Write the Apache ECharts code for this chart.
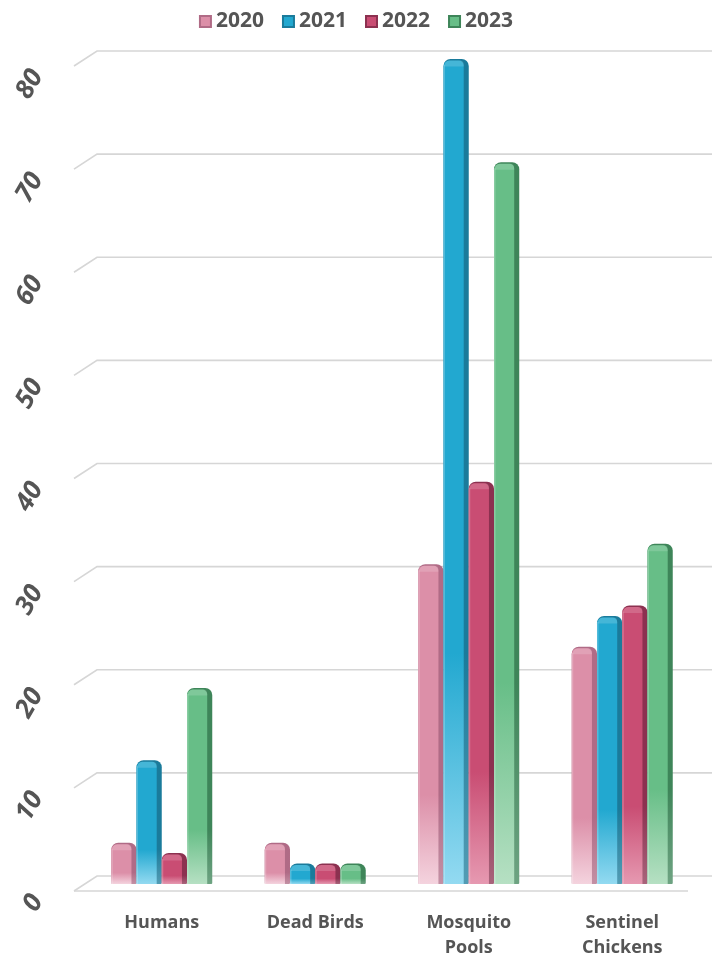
<!DOCTYPE html>
<html>
<head>
<meta charset="utf-8">
<style>
  html, body { margin: 0; padding: 0; background: #ffffff; }
  #chart { width: 712px; height: 960px; }
</style>
<script src="https://cdn.jsdelivr.net/npm/echarts@6/dist/echarts.min.js"></script>
</head>
<body>
<div id="chart"></div>
<script>
// Surveillance counts by source and year
const categories = ['Humans', 'Dead Birds', 'Mosquito\nPools', 'Sentinel\nChickens'];
const years = ['2020', '2021', '2022', '2023'];
const values2020 = [4, 4, 31, 23];
const values2021 = [12, 2, 80, 26];
const values2022 = [3, 2, 39, 27];
const values2023 = [19, 2, 70, 33];
const yTicks = [0, 10, 20, 30, 40, 50, 60, 70, 80];

const seriesValues = [values2020, values2021, values2022, values2023];
// front colour, pale colour at the base, darker side face
const palette = [
  { main: '#dc8fa8', pale: '#f4d3de', side: '#b06b86' },
  { main: '#22a8d0', pale: '#93daf1', side: '#1a7b9b' },
  { main: '#c94d73', pale: '#e699b1', side: '#8c3150' },
  { main: '#67be87', pale: '#b6e0c3', side: '#3e8559' }
];

const FONT = '"Open Sans", "Noto Sans", sans-serif';
const GRID_COLOR = '#d6d6d6';
const DEPTH = 8;      // half depth of the pseudo 3D floor
const SLANT = 11;     // horizontal reach of the slanted grid segments
const FADE_START = 0.72; // share of the bar kept in full colour before fading

function barRenderer(k) {
  const pal = palette[k];
  return function (params, api) {
    const cat = api.value(0);
    const val = api.value(1);
    const base = api.coord([cat, 0]);
    const top = api.coord([cat, val]);
    const band = api.size([1, 0])[0];
    const w = band * 0.1645;
    const x0 = base[0] + (k - 2) * w;
    const yTop = top[1];
    const h = base[1] - yTop;
    const sideW = Math.max(4, w * 0.2);
    const frontFill = new echarts.graphic.LinearGradient(0, 0, 0, 1, [
      { offset: 0, color: pal.main },
      { offset: FADE_START, color: pal.main },
      { offset: 1, color: pal.pale }
    ]);
    const sideFill = new echarts.graphic.LinearGradient(0, 0, 0, 1, [
      { offset: 0, color: pal.side },
      { offset: FADE_START, color: pal.side },
      { offset: 1, color: echarts.color.lift(pal.side, 0.25) }
    ]);
    return {
      type: 'group',
      children: [
        {
          type: 'rect',
          shape: { x: x0, y: yTop, width: w, height: h, r: [7, 7, 1, 1] },
          style: { fill: sideFill }
        },
        {
          type: 'rect',
          shape: { x: x0, y: yTop + 1.5, width: w - sideW, height: h - 1.5, r: [6, 5, 0, 0] },
          style: { fill: frontFill }
        },
        {
          type: 'rect',
          shape: { x: x0 + 1, y: yTop + 1.5, width: w - sideW - 1, height: Math.min(6, h), r: [5, 4, 0, 0] },
          style: { fill: 'rgba(255,255,255,0.16)' }
        },
        {
          type: 'rect',
          shape: { x: x0, y: yTop + 6, width: 1.5, height: Math.max(0, h - 6) },
          style: { fill: 'rgba(255,255,255,0.22)' }
        }
      ]
    };
  };
}

// Back-wall grid lines with a slanted lead-in, the floor edge and the value labels
function gridRenderer(params, api) {
  const v = api.value(1);
  const cs = params.coordSys;
  const p = api.coord([0, v]);
  const yb = p[1] - DEPTH;
  const xl = cs.x;
  const children = [
    {
      type: 'polyline',
      shape: { points: [[xl - SLANT, yb + 2 * DEPTH - 1], [xl + SLANT + 1, yb], [712, yb]] },
      style: { stroke: GRID_COLOR, lineWidth: 1.6, fill: null }
    },
    {
      type: 'text',
      x: 37,
      y: p[1] + 13,
      rotation: Math.PI / 3,
      style: {
        text: String(v),
        fill: '#555555',
        font: 'italic bold 26px ' + FONT,
        align: 'right',
        verticalAlign: 'middle'
      }
    }
  ];
  if (v === 0) {
    children.push({
      type: 'line',
      shape: { x1: xl - SLANT, y1: yb + 2 * DEPTH - 1, x2: cs.x + cs.width - 11, y2: yb + 2 * DEPTH - 1 },
      style: { stroke: GRID_COLOR, lineWidth: 1.6 }
    });
  }
  return { type: 'group', children: children };
}

const chart = echarts.init(document.getElementById('chart'), null, { renderer: 'canvas' });

const series = [
  {
    type: 'custom',
    name: 'grid',
    silent: true,
    z: 1,
    renderItem: gridRenderer,
    data: yTicks.map(v => [0, v]),
    clip: false,
    tooltip: { show: false }
  }
].concat(years.map((y, k) => ({
  type: 'custom',
  name: y,
  z: 5,
  renderItem: barRenderer(k),
  itemStyle: { color: palette[k].main, borderColor: palette[k].side, borderWidth: 1 },
  data: seriesValues[k].map((v, i) => [i, v]),
  clip: false
})));

chart.setOption({
  animation: false,
  backgroundColor: '#ffffff',
  legend: {
    data: years,
    top: 6,
    left: 'center',
    itemWidth: 11,
    itemHeight: 11,
    itemGap: 18,
    icon: 'rect',
    textStyle: { fontFamily: FONT, fontWeight: 'bold', fontSize: 21, color: '#555555' }
  },
  grid: { left: 85, right: 13, top: 59, bottom: 72, containLabel: false },
  xAxis: {
    type: 'category',
    data: categories,
    axisLine: { show: false },
    axisTick: { show: false },
    axisLabel: {
      margin: 26,
      fontFamily: FONT,
      fontWeight: 'bold',
      fontSize: 18,
      lineHeight: 25,
      color: '#555555',
      verticalAlign: 'top'
    }
  },
  yAxis: {
    type: 'value',
    min: 0,
    max: 80,
    interval: 10,
    axisLine: { show: false },
    axisTick: { show: false },
    axisLabel: { show: false },
    splitLine: { show: false }
  },
  series: series
});
</script>
</body>
</html>
